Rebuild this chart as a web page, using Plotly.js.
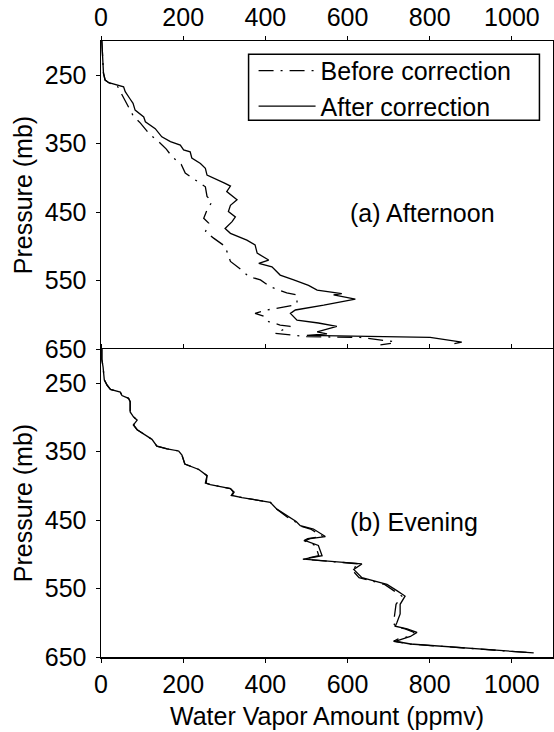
<!DOCTYPE html>
<html><head><meta charset="utf-8">
<script src="https://cdn.plot.ly/plotly-3.0.1.min.js"></script>
<style>body{margin:0;background:#fff}#chart{width:554px;height:732px}</style>
</head><body><div id="chart"></div>
<script>
// (a) Afternoon – After correction
const aftAfterX=[2,3,4,6,10,19,55,59,70,78,83,104,108,132,148,169,193,201,217,221,242,254,258,278,302,315,306,331,315,310,327,319,302,315,355,375,380,408,384,416,436,469,505,526,586,566,619,542,473,461,477,529,574,526,550,501,801,878,860];
const aftAfterP=[200,215,235,247,257,261,267,274,284,291,301,311,318,328,340,347,352,359,362,371,379,386,396,401,408,412,420,432,440,449,457,464,474,481,491,498,510,520,525,530,542,549,557,564,569,571,577,586,593,598,608,612,617,625,628,630,633,640,642];
// (a) Afternoon – Before correction
const aftBeforeX=[2,3,4,6,10,19,40,51,60,67,79,96,118,140,159,173,195,205,232,254,258,270,258,250,262,254,274,302,315,343,359,388,412,432,452,477,477,469,436,404,375,400,408,436,461,444,424,473,501,631,680,708,715,680];
const aftBeforeP=[200,215,235,247,257,261,266,279,288,296,310,320,336,347,358,369,380,393,404,413,427,435,447,459,466,479,488,500,522,535,544,549,559,564,568,571,583,586,590,593,598,603,610,615,617,622,627,630,632,633,637,639,641,644];
// (b) Evening – After correction
const eveAfterX=[2,2,5,8,15,23,47,51,67,71,71,79,88,79,88,108,124,136,161,189,197,204,225,238,258,256,266,315,324,319,343,412,428,455,475,485,517,546,509,497,529,538,493,635,615,635,696,720,740,728,728,720,716,745,769,753,728,716,753,900,1053];
const eveAfterP=[200,215,226,245,253,259,263,268,272,277,292,299,304,311,318,326,332,342,346,349,355,368,373,376,385,396,398,404,409,414,417,424,434,445,452,458,463,474,477,480,487,502,507,514,522,534,544,553,561,573,587,600,605,609,614,620,624,627,631,637,644];
// (b) Evening – Before correction
const eveBeforeX=[2,2,5,8,15,23,47,51,67,71,71,79,88,79,88,108,124,136,161,189,197,204,225,238,258,254,266,315,322,317,343,412,428,452,472,482,510,540,503,494,522,530,490,630,610,628,690,712,732,718,715,712,716,740,762,748,722,712,750,900,1050];
const eveBeforeP=[200,215,226,245,253,259,263,268,272,277,292,299,304,311,318,326,332,342,346,349,355,368,373,376,385,396,398,404,409,414,417,424,434,445,452,458,463,474,477,480,487,502,507,514,522,534,544,553,561,573,587,600,605,609,614,620,624,627,631,637,644];

const xTicks=[0,200,400,600,800,1000];
const yTicks=[250,350,450,550,650];
const seriesNames=['Before correction','After correction'];
const panelLabels=['(a) Afternoon','(b) Evening'];

const FONT='Arial';
const fs=25;
const dashStyle='15px,7px,2px,7px';

const traces=[
 {x:aftBeforeX,y:aftBeforeP,xaxis:'x',yaxis:'y',mode:'lines',name:seriesNames[0],line:{color:'black',width:1.3,dash:dashStyle}},
 {x:aftAfterX,y:aftAfterP,xaxis:'x',yaxis:'y',mode:'lines',name:seriesNames[1],line:{color:'black',width:1.3}},
 {x:eveBeforeX,y:eveBeforeP,xaxis:'x2',yaxis:'y2',mode:'lines',showlegend:false,line:{color:'black',width:1.3,dash:dashStyle}},
 {x:eveAfterX,y:eveAfterP,xaxis:'x2',yaxis:'y2',mode:'lines',showlegend:false,line:{color:'black',width:1.3}}
];

const axBase={showline:true,linecolor:'black',linewidth:1.5,ticks:'outside',ticklen:4,tickwidth:1,tickcolor:'black',
  showgrid:false,zeroline:false,tickfont:{family:FONT,size:fs,color:'black'}};

const layout={
 width:554,height:732,
 margin:{l:101,r:1,t:41,b:75},
 paper_bgcolor:'white',plot_bgcolor:'white',
 font:{family:FONT,size:fs,color:'black'},
 showlegend:true,
 legend:{x:0.3265,xanchor:'left',y:0.989,yanchor:'top',borderwidth:0,bgcolor:'rgba(0,0,0,0)',
   font:{family:FONT,size:fs,color:'black'},tracegroupgap:0,itemwidth:57,indentation:5},
 shapes:[
  {type:'rect',xref:'paper',yref:'paper',x0:0.3265,x1:0.970,y0:0.8715,y1:0.9784,line:{color:'black',width:1.5},fillcolor:'rgba(0,0,0,0)',layer:'above'}
 ],
 xaxis:Object.assign({},axBase,{domain:[0,1],range:[0,1100],side:'top',anchor:'y',tickvals:xTicks,mirror:false}),
 yaxis:Object.assign({},axBase,{domain:[0.5,1],range:[650,200],anchor:'x',tickvals:yTicks,mirror:true,ticklabelstandoff:4,
   title:{text:'Pressure (mb)',font:{family:FONT,size:fs,color:'black'},standoff:5}}),
 xaxis2:Object.assign({},axBase,{domain:[0,1],range:[0,1100],side:'bottom',anchor:'y2',tickvals:xTicks,mirror:'ticks',
   title:{text:'Water Vapor Amount (ppmv)',font:{family:FONT,size:fs,color:'black'},standoff:11}}),
 yaxis2:Object.assign({},axBase,{domain:[0,0.5],range:[650,200],anchor:'x2',tickvals:yTicks,mirror:true,ticklabelstandoff:4,
   title:{text:'Pressure (mb)',font:{family:FONT,size:fs,color:'black'},standoff:5}}),
 annotations:[
  {xref:'x',yref:'y',x:602,y:451,text:panelLabels[0],showarrow:false,xanchor:'left',yanchor:'middle',font:{family:FONT,size:fs,color:'black'}},
  {xref:'x2',yref:'y2',x:602,y:453,text:panelLabels[1],showarrow:false,xanchor:'left',yanchor:'middle',font:{family:FONT,size:fs,color:'black'}}
 ]
};

Plotly.newPlot('chart',traces,layout,{staticPlot:true,displayModeBar:false});
</script>
</body></html>
